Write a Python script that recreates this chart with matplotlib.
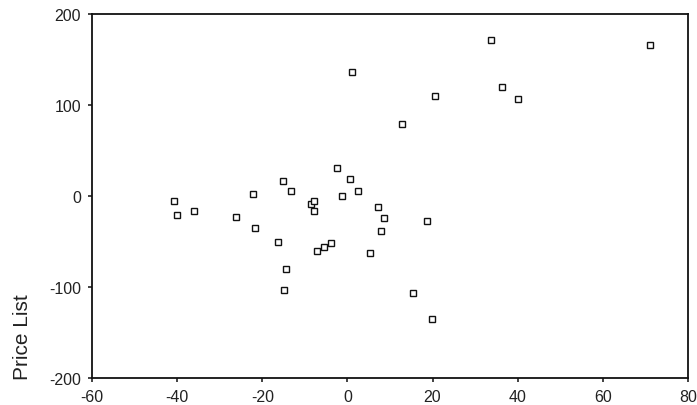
import matplotlib
matplotlib.use("Agg")
import matplotlib.pyplot as plt

plt.rcParams['font.family'] = ['Liberation Sans', 'DejaVu Sans']
plt.rcParams['axes.unicode_minus'] = False

# values
x_vals = [-40.7, -40.0, -36.0, -26.1, -22.1, -21.7, -16.4, -15.2, -13.3, -14.4,
          -14.8, -8.6, -7.8, -7.8, -7.1, -5.5, -3.9, -2.5, 0.5, -1.3,
          2.6, 7.1, 8.7, 7.8, 5.3, 18.8, 15.3, 19.8, 1.1, 20.6,
          12.9, 33.7, 36.3, 40.0, 71.1]
price_list = [-5, -21, -17, -23, 2, -35, -50, 16, 6, -80,
              -103, -9, -6, -16, -60, -56, -52, 31, 19, 0,
              5, -12, -24, -39, -63, -27, -107, -135, 136, 110,
              79, 172, 120, 107, 166]

x_ticks = [-60, -40, -20, 0, 20, 40, 60, 80]
y_ticks = [-200, -100, 0, 100, 200]

fig = plt.figure(figsize=(6.97, 4.06), dpi=100)
ax = fig.add_axes([0.132, 0.0665, 0.855, 0.8965])

ax.plot(x_vals, price_list, linestyle="none", marker="s", markersize=4.2,
        markerfacecolor="white", markeredgecolor="#111111", markeredgewidth=1.0)

ax.set_xlim(-60, 80)
ax.set_ylim(-200, 200)
ax.set_xticks(x_ticks)
ax.set_yticks(y_ticks)
ax.tick_params(direction="out", length=3, width=1.2, labelsize=11.5,
               colors="#222222", pad=5)
for s in ax.spines.values():
    s.set_linewidth(1.3)
    s.set_color("#111111")

# the axis title sits at the bottom of the y axis in the original
fig.text(0.018, 0.064, "Price List", rotation=90, ha="left", va="bottom",
         fontsize=15, color="#222222")

fig.savefig("out.png", dpi=100)
